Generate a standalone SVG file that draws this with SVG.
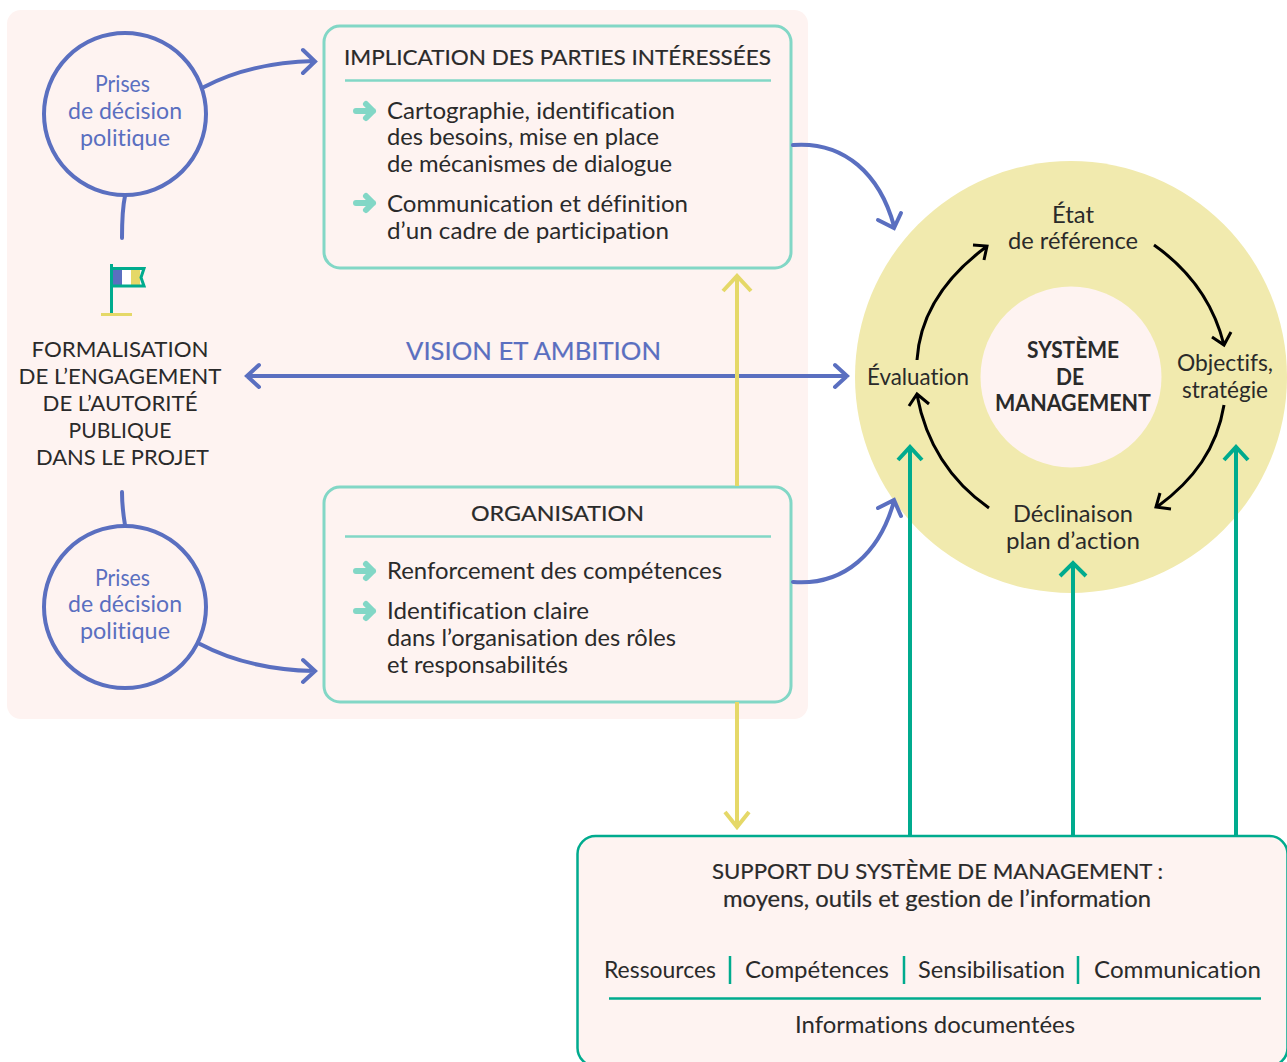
<svg xmlns="http://www.w3.org/2000/svg" width="1287" height="1062" viewBox="0 0 1287 1062">
<style>
text{font-family:"Lato","Liberation Sans",sans-serif;font-size:23px;fill:#2a2a2a;font-variant-ligatures:none;transform:translateY(1px)}
.m{text-anchor:middle}
.up{font-size:22px;transform:none}
.b{stroke:#2a2a2a;stroke-width:.2px}
.h{font-weight:700;font-size:22px}
.blue{fill:#5a6fc0}
.box{fill:#fef3f1;stroke:#82d7c6;stroke-width:3}
.rule{stroke:#82d7c6;stroke-width:2.5;fill:none}
.cb{fill:none;stroke:#5a6fc0;stroke-width:4;stroke-linecap:round}
.cg{fill:none;stroke:#00ab8e;stroke-width:4}
.cy{fill:none;stroke:#e5d868;stroke-width:4}
.ck{fill:none;stroke:#000;stroke-width:3}
.tick{stroke:#00ab8e;stroke-width:2.5}
</style>
<defs>
<g id="bullet"><path d="M2 0H19M12 -7L19 0L12 7" fill="none" stroke="#82d7c6" stroke-width="6" stroke-linecap="round" stroke-linejoin="round"/></g>
</defs>
<rect id="panel" x="7" y="10" width="801" height="709" rx="14" fill="#fef3f1"/>
<g id="system">
<circle cx="1071" cy="377" r="216" fill="#f1eaae"/>
<circle cx="1071" cy="377" r="90.500" fill="#fef3f1"/>
<text class="m h" x="1073" y="357" textLength="92" lengthAdjust="spacingAndGlyphs">SYSTÈME</text>
<text class="m h" x="1070" y="384" textLength="28" lengthAdjust="spacingAndGlyphs">DE</text>
<text class="m h" x="1073" y="410" textLength="156" lengthAdjust="spacingAndGlyphs">MANAGEMENT</text>
</g>
<g id="cycle-labels">
<text class="m" x="1073" y="222" textLength="42" lengthAdjust="spacingAndGlyphs">État</text>
<text class="m" x="1073" y="248" textLength="130" lengthAdjust="spacingAndGlyphs">de référence</text>
<text class="m" x="1225" y="370" textLength="96" lengthAdjust="spacingAndGlyphs">Objectifs,</text>
<text class="m" x="1225" y="397" textLength="86" lengthAdjust="spacingAndGlyphs">stratégie</text>
<text class="m" x="1073" y="521" textLength="120" lengthAdjust="spacingAndGlyphs">Déclinaison</text>
<text class="m" x="1073" y="548" textLength="134" lengthAdjust="spacingAndGlyphs">plan d’action</text>
<text class="m" x="918" y="384" textLength="102" lengthAdjust="spacingAndGlyphs">Évaluation</text>
</g>
<g id="decision-top">
<circle cx="125" cy="114" r="81" fill="none" stroke="#5a6fc0" stroke-width="4"/>
<text class="m blue" x="122.500" y="91" textLength="55" lengthAdjust="spacingAndGlyphs">Prises</text>
<text class="m blue" x="125" y="118" textLength="114" lengthAdjust="spacingAndGlyphs">de décision</text>
<text class="m blue" x="125" y="145" textLength="90" lengthAdjust="spacingAndGlyphs">politique</text>
</g>
<g id="decision-bottom">
<circle cx="125" cy="607" r="81" fill="none" stroke="#5a6fc0" stroke-width="4"/>
<text class="m blue" x="122.500" y="585" textLength="55" lengthAdjust="spacingAndGlyphs">Prises</text>
<text class="m blue" x="125" y="611" textLength="114" lengthAdjust="spacingAndGlyphs">de décision</text>
<text class="m blue" x="125" y="638" textLength="90" lengthAdjust="spacingAndGlyphs">politique</text>
</g>
<g id="engagement">
<rect x="101" y="313" width="31" height="3" fill="#e5d868"/>
<rect x="113" y="270" width="9" height="16" fill="#5a6fc0"/>
<rect x="122" y="270" width="9" height="16" fill="#fff"/>
<rect x="131" y="270" width="9" height="16" fill="#e5d868"/>
<path d="M111.500 264V313M111.500 268.500H144L141 277.500L144 286H111.500" fill="none" stroke="#00ab8e" stroke-width="3"/>
<text class="m up" x="120" y="357" textLength="177" lengthAdjust="spacingAndGlyphs">FORMALISATION</text>
<text class="m up" x="120" y="384" textLength="203" lengthAdjust="spacingAndGlyphs">DE L’ENGAGEMENT</text>
<text class="m up" x="120" y="411" textLength="155" lengthAdjust="spacingAndGlyphs">DE L’AUTORITÉ</text>
<text class="m up" x="120" y="438" textLength="103" lengthAdjust="spacingAndGlyphs">PUBLIQUE</text>
<text class="m up" x="122.500" y="465" textLength="173" lengthAdjust="spacingAndGlyphs">DANS LE PROJET</text>
</g>
<g id="implication">
<rect class="box" x="324" y="26" width="467" height="242" rx="16"/>
<text class="up b" x="344" y="65" textLength="427" lengthAdjust="spacingAndGlyphs">IMPLICATION DES PARTIES INTÉRESSÉES</text>
<path class="rule" d="M345 80.500H771"/>
<use href="#bullet" x="354" y="111"/>
<text x="387" y="118" textLength="288" lengthAdjust="spacingAndGlyphs">Cartographie, identification</text>
<text x="387" y="144" textLength="272" lengthAdjust="spacingAndGlyphs">des besoins, mise en place</text>
<text x="387" y="171" textLength="285" lengthAdjust="spacingAndGlyphs">de mécanismes de dialogue</text>
<use href="#bullet" x="354" y="203"/>
<text x="387" y="211" textLength="301" lengthAdjust="spacingAndGlyphs">Communication et définition</text>
<text x="387" y="238" textLength="282" lengthAdjust="spacingAndGlyphs">d’un cadre de participation</text>
</g>
<g id="organisation">
<rect class="box" x="324" y="487" width="467" height="215" rx="16"/>
<text class="m up b" x="557.500" y="521" textLength="173" lengthAdjust="spacingAndGlyphs">ORGANISATION</text>
<path class="rule" d="M345 536.500H771"/>
<use href="#bullet" x="354" y="571"/>
<text x="387" y="578" textLength="335" lengthAdjust="spacingAndGlyphs">Renforcement des compétences</text>
<use href="#bullet" x="354" y="611"/>
<text x="387" y="618" textLength="202" lengthAdjust="spacingAndGlyphs">Identification claire</text>
<text x="387" y="645" textLength="289" lengthAdjust="spacingAndGlyphs">dans l’organisation des rôles</text>
<text x="387" y="672" textLength="181" lengthAdjust="spacingAndGlyphs">et responsabilités</text>
</g>
<g id="support">
<rect x="577.500" y="836" width="710" height="230" rx="18" fill="#fef3f1" stroke="#00ab8e" stroke-width="2.500"/>
<text class="m up b" x="937.500" y="879" textLength="451" lengthAdjust="spacingAndGlyphs">SUPPORT DU SYSTÈME DE MANAGEMENT :</text>
<text class="m b" x="937" y="906" textLength="428" lengthAdjust="spacingAndGlyphs">moyens, outils et gestion de l’information</text>
<text x="604" y="977" textLength="112" lengthAdjust="spacingAndGlyphs">Ressources</text>
<text x="745" y="977" textLength="144" lengthAdjust="spacingAndGlyphs">Compétences</text>
<text x="918" y="977" textLength="147" lengthAdjust="spacingAndGlyphs">Sensibilisation</text>
<text x="1094" y="977" textLength="167" lengthAdjust="spacingAndGlyphs">Communication</text>
<path class="tick" d="M730 956V984M904 956V984M1078 956V984"/>
<path d="M609 998.500H1261" stroke="#00ab8e" stroke-width="2.500"/>
<text class="m" x="935" y="1032" textLength="280" lengthAdjust="spacingAndGlyphs">Informations documentées</text>
</g>
<g id="connectors">
<path class="cb" d="M204 87C238 69 275 62 314 61M303 50L315 61.500L303 73"/>
<path class="cb" d="M125 196C122 210 122 224 122 238"/>
<path class="cb" d="M122 492C122 505 123 513 125 525"/>
<path class="cb" d="M200 644C232 661 270 670 314 671M303 660L315 671L303 682"/>
<path class="cb" d="M793 145C845 141 880 175 894 226M878 220L894 228L901 213"/>
<path class="cb" d="M793 582C845 586 880 552 894 501M878 508L894 500L901 516"/>
<path class="cb" d="M247 376H847M259 365L247 376L259 387M835 365L847 376L835 387"/>
<text class="m blue" style="font-size:25px;stroke:#5a6fc0;stroke-width:.2px" x="533.500" y="359" textLength="255" lengthAdjust="spacingAndGlyphs">VISION ET AMBITION</text>
<path class="cy" d="M737 486V276M723 291L737 276L751 291"/>
<path class="cy" d="M737 702V826M725 812L737 827L749 812"/>
<path class="cg" d="M910 836V447M898 460L910 447L922 460"/>
<path class="cg" d="M1073 836V563M1060 576L1073 563L1086 576"/>
<path class="cg" d="M1236 836V447M1224 460L1236 447L1248 460"/>
<path class="ck" d="M917 360C920 312 947 276 986 247M973 245L987 246L984 260"/>
<path class="ck" d="M1154 245C1191 271 1214 305 1224 345M1212 337L1224 345L1231 332"/>
<path class="ck" d="M1224 405C1217 448 1194 480 1157 507M1160 493L1156 507L1171 509"/>
<path class="ck" d="M989 508C949 480 926 443 917 395M909 406L917 394L929 404"/>
</g>
</svg>
